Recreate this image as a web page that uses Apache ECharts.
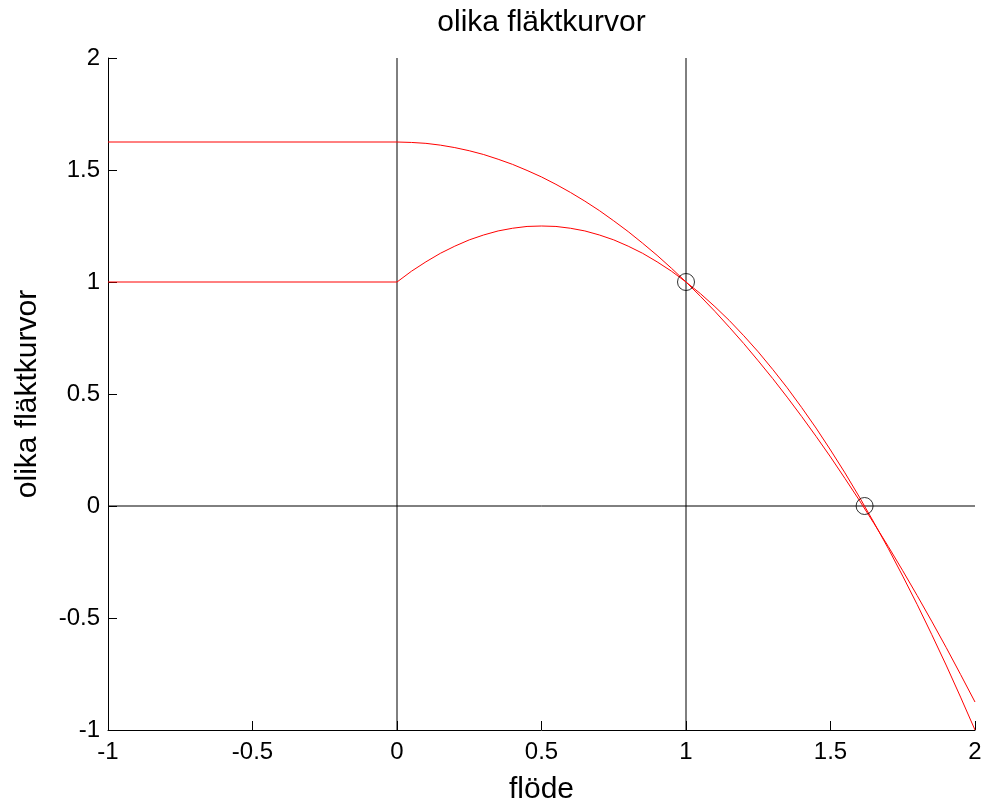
<!DOCTYPE html>
<html>
<head>
<meta charset="utf-8">
<script src="https://cdn.jsdelivr.net/npm/echarts@6/dist/echarts.min.js"></script>
<style>html,body{margin:0;padding:0;background:#fff}#c{width:986px;height:810px}</style>
</head>
<body>
<div id="c"></div>
<script>
// values
const xs = [-1, 0, 0.05, 0.1, 0.15, 0.2, 0.25, 0.3, 0.35, 0.4, 0.45, 0.5, 0.55, 0.6, 0.65, 0.7, 0.75, 0.8, 0.85, 0.9, 0.95, 1.0,
            1.05, 1.1, 1.15, 1.2, 1.25, 1.3, 1.35, 1.4, 1.45, 1.5, 1.55, 1.6, 1.65, 1.7, 1.75, 1.8, 1.85, 1.9, 1.95, 2.0];
const curveUpper = [1.625, 1.625, 1.623, 1.619, 1.611, 1.600, 1.586, 1.569, 1.548, 1.525, 1.498, 1.469, 1.436, 1.400, 1.361, 1.319, 1.273, 1.225, 1.173, 1.119, 1.061, 1.000,
                    0.936, 0.869, 0.798, 0.725, 0.648, 0.569, 0.486, 0.400, 0.311, 0.219, 0.123, 0.025, -0.077, -0.181, -0.289, -0.400, -0.514, -0.631, -0.752, -0.875];
const curveLower = [1.000, 1.000, 1.048, 1.090, 1.128, 1.160, 1.188, 1.210, 1.228, 1.240, 1.248, 1.250, 1.248, 1.240, 1.228, 1.210, 1.188, 1.160, 1.128, 1.090, 1.048, 1.000,
                    0.948, 0.890, 0.828, 0.760, 0.688, 0.610, 0.528, 0.440, 0.348, 0.250, 0.148, 0.040, -0.073, -0.190, -0.313, -0.440, -0.573, -0.710, -0.853, -1.000];
const circlesX = [1.0, 1.618];
const circlesY = [1.0, 0.0];
const refVerticalX = [0, 1];
const refHorizontalY = [0];
const xTicks = [-1, -0.5, 0, 0.5, 1, 1.5, 2];
const yTicks = [-1, -0.5, 0, 0.5, 1, 1.5, 2];
const titleText = 'olika fläktkurvor';
const xLabel = 'flöde';
const yLabel = 'olika fläktkurvor';

const font = 'Liberation Sans, Arial, sans-serif';
const xMin = xTicks[0], xMax = xTicks[xTicks.length - 1];
const yMin = yTicks[0], yMax = yTicks[yTicks.length - 1];

const series = [];
refVerticalX.forEach(v => series.push({
  type: 'line', data: [[v, yMin], [v, yMax]], symbol: 'none', silent: true,
  lineStyle: { color: '#000', width: 1 }, z: 1
}));
refHorizontalY.forEach(v => series.push({
  type: 'line', data: [[xMin, v], [xMax, v]], symbol: 'none', silent: true,
  lineStyle: { color: '#000', width: 1 }, z: 1
}));
[curveUpper, curveLower].forEach(arr => series.push({
  type: 'line', data: xs.map((x, i) => [x, arr[i]]), symbol: 'none',
  lineStyle: { color: '#ff0000', width: 1 }, z: 3
}));
series.push({
  type: 'scatter', data: circlesX.map((x, i) => [x, circlesY[i]]),
  symbol: 'circle', symbolSize: 17,
  itemStyle: { color: 'rgba(0,0,0,0)', borderColor: '#000', borderWidth: 1 }, z: 4
});

const gridLeft = 108, gridRight = 11;
const chart = echarts.init(document.getElementById('c'));
chart.setOption({
  animation: false,
  backgroundColor: '#fff',
  graphic: [{
    type: 'text', x: (gridLeft + 986 - gridRight) / 2, y: 8,
    style: { text: titleText, fontFamily: font, fontSize: 30, fill: '#000', textAlign: 'center', textVerticalAlign: 'top' }
  }],
  grid: { left: gridLeft, right: gridRight, top: 58, bottom: 79 },
  xAxis: {
    type: 'value', min: xMin, max: xMax, interval: 0.5,
    name: xLabel, nameLocation: 'middle', nameGap: 45,
    nameTextStyle: { fontFamily: font, fontSize: 30, color: '#000' },
    axisLine: { show: true, onZero: false, lineStyle: { color: '#000', width: 1 } },
    axisTick: { show: true, inside: true, length: 9, lineStyle: { color: '#000' } },
    axisLabel: { fontFamily: font, fontSize: 24, color: '#000', margin: 10 },
    splitLine: { show: false }
  },
  yAxis: {
    type: 'value', min: yMin, max: yMax, interval: 0.5,
    name: yLabel, nameLocation: 'middle', nameGap: 65,
    nameTextStyle: { fontFamily: font, fontSize: 30, color: '#000' },
    axisLine: { show: true, onZero: false, lineStyle: { color: '#000', width: 1 } },
    axisTick: { show: true, inside: true, length: 9, lineStyle: { color: '#000' } },
    axisLabel: { fontFamily: font, fontSize: 24, color: '#000', margin: 8 },
    splitLine: { show: false }
  },
  series: series
});
</script>
</body>
</html>
